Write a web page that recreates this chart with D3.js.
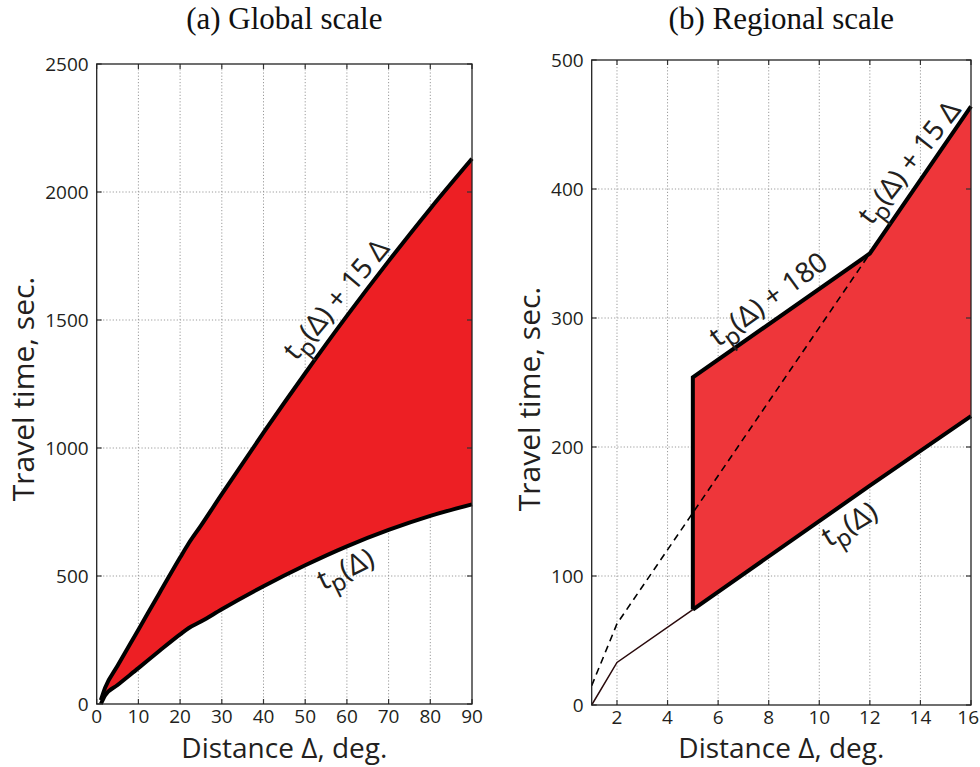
<!DOCTYPE html>
<html>
<head>
<meta charset="utf-8">
<script src="https://cdn.jsdelivr.net/npm/d3@7"></script>
<style>
  html, body { margin: 0; padding: 0; background: #fff; }
  svg { display: block; }
</style>
</head>
<body>
<svg id="chart" width="980" height="767"></svg>
<script>
// ---------- data ----------
const globalDist = [1, 2, 5, 10, 15, 20, 22, 25, 30, 40, 50, 60, 70, 80, 90];
const globalTp   = [0, 33, 74, 140, 207, 272, 296, 322, 370, 460, 542, 616, 680, 735, 780];
const globalXTicks = [0, 10, 20, 30, 40, 50, 60, 70, 80, 90];
const globalYTicks = [0, 500, 1000, 1500, 2000, 2500];

const regionalDist = [1, 2, 5, 12, 16];
const regionalTp   = [0, 33, 74, 170, 224];
const regionalXTicks = [2, 4, 6, 8, 10, 12, 14, 16];
const regionalYTicks = [0, 100, 200, 300, 400, 500];

const slopeTerm = 15;      // tp + 15 Δ
const fixedTerm = 180;     // tp + 180
const regionalStart = 5;   // window begins at 5°

const titles = ["(a) Global scale", "(b) Regional scale"];

// ---------- drawing ----------
const svg = d3.select("#chart");
const sansFont = "'Open Sans', 'Noto Sans', sans-serif";
const labelFont = "'Noto Sans', 'Open Sans', sans-serif";
const serifFont = "'Liberation Serif', 'DejaVu Serif', serif";
const W = 980;

function frame(g, x, y, xTicks, yTicks) {
  const [x0, x1] = x.range();
  const [y0, y1] = y.range();
  g.append("g").selectAll("line").data(xTicks.filter(d => x(d) > x0 + 1 && x(d) < x1 - 1)).join("line")
    .attr("x1", d => x(d)).attr("x2", d => x(d)).attr("y1", y0).attr("y2", y1)
    .attr("stroke", "#9a9a9a").attr("stroke-width", 1).attr("stroke-dasharray", "1.2,2");
  g.append("g").selectAll("line").data(yTicks.filter(d => y(d) < y0 - 1 && y(d) > y1 + 1)).join("line")
    .attr("y1", d => y(d)).attr("y2", d => y(d)).attr("x1", x0).attr("x2", x1)
    .attr("stroke", "#9a9a9a").attr("stroke-width", 1).attr("stroke-dasharray", "1.2,2");
}

function axesBox(g, x, y, xTicks, yTicks) {
  const [x0, x1] = x.range();
  const [y0, y1] = y.range();
  const tl = 5;
  const ax = g.append("g");
  ax.append("g").selectAll("line").data(xTicks).join("line")
    .attr("x1", d => x(d)).attr("x2", d => x(d)).attr("y1", y0).attr("y2", y0 - tl)
    .attr("stroke", "#333").attr("stroke-width", 1.2);
  ax.append("g").selectAll("line").data(xTicks).join("line")
    .attr("x1", d => x(d)).attr("x2", d => x(d)).attr("y1", y1).attr("y2", y1 + tl)
    .attr("stroke", "#333").attr("stroke-width", 1.2);
  ax.append("g").selectAll("line").data(yTicks).join("line")
    .attr("y1", d => y(d)).attr("y2", d => y(d)).attr("x1", x0).attr("x2", x0 + tl)
    .attr("stroke", "#333").attr("stroke-width", 1.2);
  ax.append("g").selectAll("line").data(yTicks).join("line")
    .attr("y1", d => y(d)).attr("y2", d => y(d)).attr("x1", x1).attr("x2", x1 - tl)
    .attr("stroke", "#333").attr("stroke-width", 1.2);
  ax.append("rect").attr("x", x0).attr("y", y1).attr("width", x1 - x0).attr("height", y0 - y1)
    .attr("fill", "none").attr("stroke", "#222").attr("stroke-width", 1.3);
  // tick labels
  ax.append("g").selectAll("text").data(xTicks).join("text")
    .attr("x", d => (x(d) + 12 > W ? W - 1 : x(d)))
    .attr("y", y0 + 19)
    .attr("text-anchor", d => (x(d) + 12 > W ? "end" : "middle"))
    .attr("font-family", sansFont).attr("font-size", 19).attr("fill", "#231f20")
    .text(d => d);
  ax.append("g").selectAll("text").data(yTicks).join("text")
    .attr("x", x0 - 8).attr("y", d => y(d) + 7).attr("text-anchor", "end")
    .attr("font-family", sansFont).attr("font-size", 19).attr("fill", "#231f20")
    .text(d => d);
}

// label centred (glyph-wise) at cx, cy
function tpLabel(g, cx, cy, angle, suffix, size) {
  const t = g.append("g").attr("transform", `translate(${cx},${cy}) rotate(${angle})`)
    .append("text")
    .attr("y", size * 0.3)
    .attr("text-anchor", "middle")
    .attr("font-family", labelFont).attr("font-size", size).attr("fill", "#231f20");
  t.append("tspan").text("t");
  t.append("tspan").attr("dy", size * 0.28).attr("font-size", size * 0.85).text("p");
  t.append("tspan").attr("dy", -size * 0.28).text("(Δ)" + suffix);
}

function axisTitles(g, x, y, title, yLabX, yLabY) {
  const [x0, x1] = x.range();
  const cx = (x0 + x1) / 2;
  g.append("text").attr("x", cx).attr("y", 29).attr("text-anchor", "middle")
    .attr("font-family", serifFont).attr("font-size", 31).attr("fill", "#111").text(title);
  g.append("text").attr("x", cx).attr("y", 758).attr("text-anchor", "middle")
    .attr("font-family", sansFont).attr("font-size", 28).attr("fill", "#231f20").text("Distance Δ, deg.");
  g.append("text").attr("transform", `translate(${yLabX},${yLabY}) rotate(-90)`)
    .attr("text-anchor", "middle")
    .attr("font-family", sansFont).attr("font-size", 30).attr("fill", "#231f20").text("Travel time, sec.");
}

// ---------- panel (a) ----------
{
  const g = svg.append("g");
  const x = d3.scaleLinear().domain([0, 90]).range([96.7, 472]);
  const y = d3.scaleLinear().domain([0, 2500]).range([704, 64]);
  frame(g, x, y, globalXTicks, globalYTicks);
  const pts = globalDist.map((d, i) => ({ d, lo: globalTp[i], hi: globalTp[i] + slopeTerm * d }));
  const area = d3.area().x(p => x(p.d)).y0(p => y(p.lo)).y1(p => y(p.hi)).curve(d3.curveMonotoneX);
  g.append("path").datum(pts).attr("d", area).attr("fill", "#ed1f24");
  const lineLo = d3.line().x(p => x(p.d)).y(p => y(p.lo)).curve(d3.curveMonotoneX);
  const lineHi = d3.line().x(p => x(p.d)).y(p => y(p.hi)).curve(d3.curveMonotoneX);
  g.append("path").datum(pts).attr("d", lineLo).attr("fill", "none").attr("stroke", "#000").attr("stroke-width", 4).attr("stroke-linejoin", "round");
  g.append("path").datum(pts).attr("d", lineHi).attr("fill", "none").attr("stroke", "#000").attr("stroke-width", 4).attr("stroke-linejoin", "round");
  axesBox(g, x, y, globalXTicks, globalYTicks);
  axisTitles(g, x, y, titles[0], 34, 389);
  tpLabel(g, 337, 300, -50, " + 15 Δ", 28);
  tpLabel(g, 346, 570, -26, "", 28);
}

// ---------- panel (b) ----------
{
  const g = svg.append("g");
  const x = d3.scaleLinear().domain([1, 16]).range([591.7, 971]);
  const y = d3.scaleLinear().domain([0, 500]).range([705, 60]);
  frame(g, x, y, regionalXTicks, regionalYTicks);
  const pts = regionalDist.map((d, i) => ({ d, lo: regionalTp[i], hi: regionalTp[i] + Math.max(fixedTerm, slopeTerm * d), dash: regionalTp[i] + slopeTerm * d }));
  const win = pts.filter(p => p.d >= regionalStart);
  const area = d3.area().x(p => x(p.d)).y0(p => y(p.lo)).y1(p => y(p.hi));
  g.append("path").datum(win).attr("d", area).attr("fill", "#ee363a");
  const pre = pts.filter(p => p.d <= regionalStart);
  g.append("path").datum(pre).attr("d", d3.line().x(p => x(p.d)).y(p => y(p.lo)))
    .attr("fill", "none").attr("stroke", "#2a0a0c").attr("stroke-width", 1.5);
  const dashPts = pts.filter(p => p.d <= 12);
  g.append("path").datum(dashPts).attr("d", d3.line().x(p => x(p.d)).y(p => y(p.dash)))
    .attr("fill", "none").attr("stroke", "#000").attr("stroke-width", 1.6).attr("stroke-dasharray", "7,5");
  const first = win[0];
  const outline = [[x(first.d), y(first.lo)], [x(first.d), y(first.hi)]]
    .concat(win.slice(1).map(p => [x(p.d), y(p.hi)]));
  g.append("path").attr("d", d3.line()(outline)).attr("fill", "none").attr("stroke", "#000").attr("stroke-width", 4).attr("stroke-linejoin", "miter");
  g.append("path").datum(win).attr("d", d3.line().x(p => x(p.d)).y(p => y(p.lo)))
    .attr("fill", "none").attr("stroke", "#000").attr("stroke-width", 4);
  axesBox(g, x, y, regionalXTicks, regionalYTicks);
  axisTitles(g, x, y, titles[1], 540, 399);
  tpLabel(g, 769, 300, -36, " + 180", 28);
  tpLabel(g, 910, 163, -52, " + 15 Δ", 28);
  tpLabel(g, 850, 525, -31, "", 28);
}
</script>
</body>
</html>
